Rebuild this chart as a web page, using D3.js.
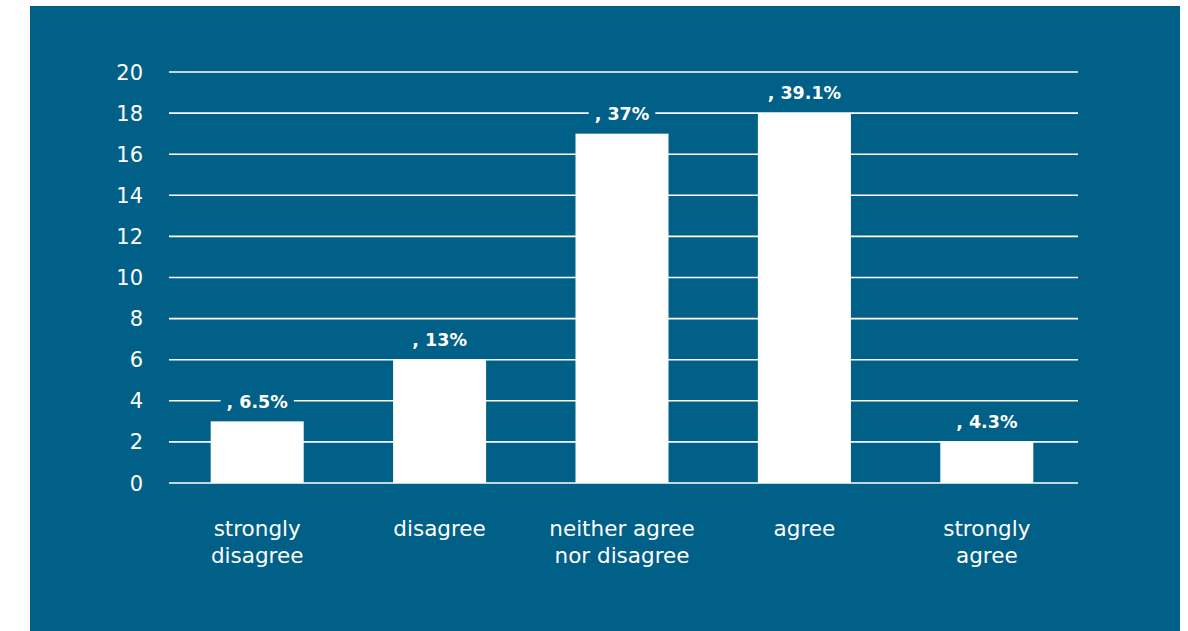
<!DOCTYPE html>
<html>
<head>
<meta charset="utf-8">
<script src="https://cdn.jsdelivr.net/npm/d3@7"></script>
<style>
  html, body { margin: 0; padding: 0; background: #ffffff; }
  svg { display: block; }
</style>
</head>
<body>
<svg id="chart" width="1188" height="631"></svg>
<script>
// Survey responses: counts per answer and their share of all responses
const categories = [
  ["strongly", "disagree"],
  ["disagree"],
  ["neither agree", "nor disagree"],
  ["agree"],
  ["strongly", "agree"]
];
const counts = [3, 6, 17, 18, 2];
const shareLabels = [", 6.5%", ", 13%", ", 37%", ", 39.1%", ", 4.3%"];
const yTicks = [0, 2, 4, 6, 8, 10, 12, 14, 16, 18, 20];

const bg = "#006087";
const font = "'DejaVu Sans', 'Open Sans', sans-serif";

const svg = d3.select("#chart");

// panel
svg.append("rect")
  .attr("x", 30).attr("y", 6)
  .attr("width", 1150).attr("height", 625)
  .attr("fill", bg);

const plotLeft = 169, plotRight = 1078, plotTop = 72, plotBottom = 483;

const x = d3.scaleBand()
  .domain(d3.range(categories.length))
  .range([plotLeft - 3, plotRight])
  .paddingInner(0.49)
  .paddingOuter(0.245);

const y = d3.scaleLinear().domain([0, 20]).range([plotBottom, plotTop]);

// horizontal gridlines
svg.append("g")
  .selectAll("line")
  .data(yTicks)
  .join("line")
  .attr("x1", plotLeft).attr("x2", plotRight)
  .attr("y1", d => y(d)).attr("y2", d => y(d))
  .attr("stroke", "#ffffff")
  .attr("stroke-width", 1.6);

// y tick labels
svg.append("g")
  .selectAll("text")
  .data(yTicks)
  .join("text")
  .attr("x", 143)
  .attr("y", d => y(d))
  .attr("dy", "0.36em")
  .attr("text-anchor", "end")
  .attr("fill", "#ffffff")
  .attr("font-family", font)
  .attr("font-size", 21)
  .text(d => d);

// bars
svg.append("g")
  .selectAll("rect")
  .data(counts)
  .join("rect")
  .attr("x", (d, i) => x(i))
  .attr("width", x.bandwidth())
  .attr("y", d => y(d))
  .attr("height", d => y(0) - y(d))
  .attr("fill", "#ffffff");

// value labels with a panel-coloured backing that interrupts the gridlines
const lbl = svg.append("g")
  .selectAll("g")
  .data(counts)
  .join("g")
  .attr("transform", (d, i) => `translate(${x(i) + x.bandwidth() / 2},${y(d) - 20})`);

lbl.append("text")
  .attr("text-anchor", "middle")
  .attr("dy", "0.36em")
  .attr("fill", "#ffffff")
  .attr("font-family", font)
  .attr("font-weight", "bold")
  .attr("font-size", 17.5)
  .text((d, i) => shareLabels[i]);

lbl.each(function () {
  const g = d3.select(this);
  const b = g.select("text").node().getBBox();
  g.insert("rect", "text")
    .attr("x", b.x - 6).attr("y", b.y - 2)
    .attr("width", b.width + 12).attr("height", b.height + 4)
    .attr("fill", bg);
});

// category labels
svg.append("g")
  .selectAll("text")
  .data(categories)
  .join("text")
  .attr("x", (d, i) => x(i) + x.bandwidth() / 2)
  .attr("y", 528)
  .attr("text-anchor", "middle")
  .attr("fill", "#ffffff")
  .attr("font-family", font)
  .attr("font-size", 21.5)
  .each(function (lines) {
    d3.select(this).selectAll("tspan")
      .data(lines)
      .join("tspan")
      .attr("x", d3.select(this).attr("x"))
      .attr("dy", (l, j) => j === 0 ? "0.36em" : 27)
      .text(l => l);
  });
</script>
</body>
</html>
